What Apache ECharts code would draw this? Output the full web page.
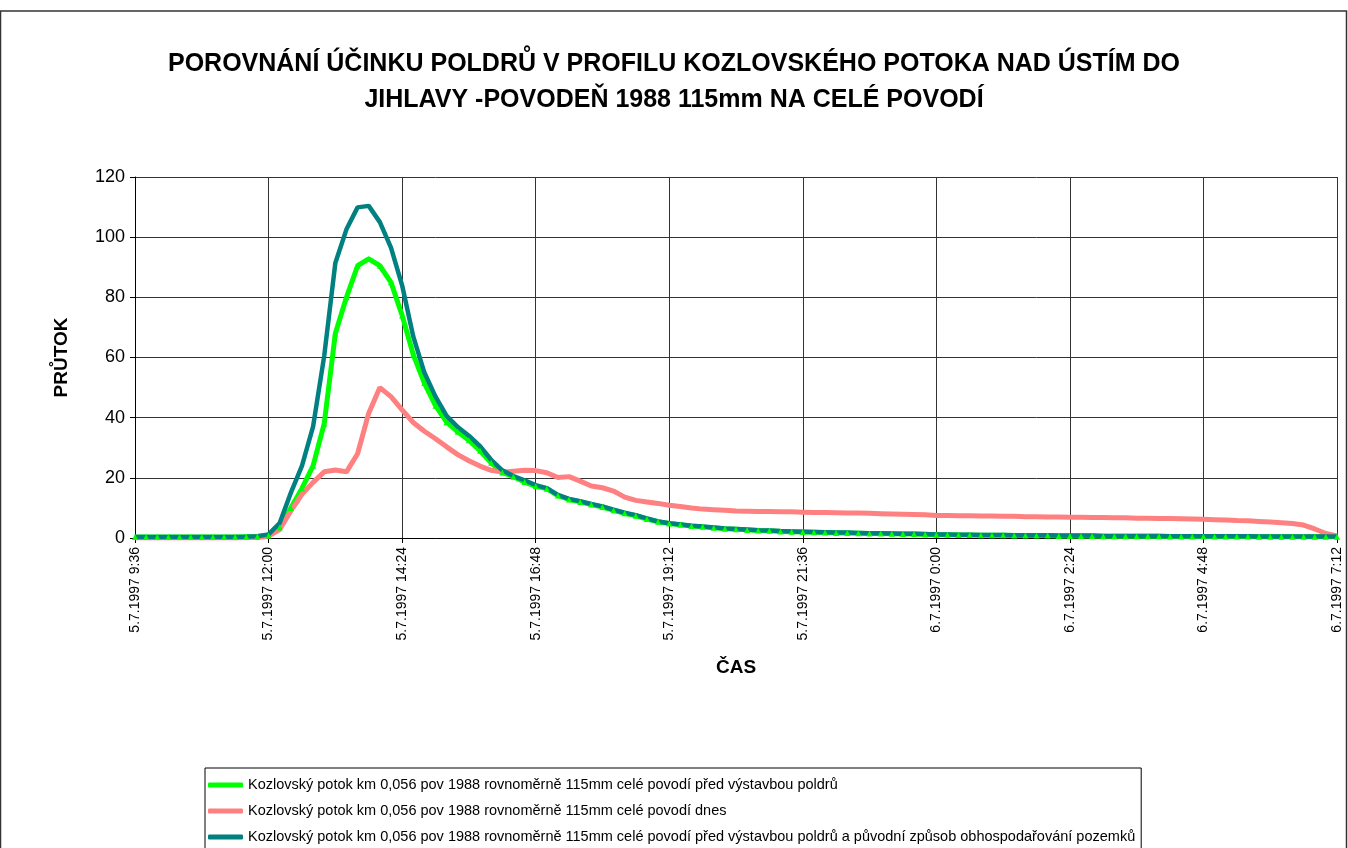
<!DOCTYPE html>
<html>
<head>
<meta charset="utf-8">
<title>Kozlovský potok</title>
<script src="https://cdn.jsdelivr.net/npm/echarts@6/dist/echarts.min.js"></script>
<style>
    html, body { margin: 0; padding: 0; background: #fff; }
    #chart { width: 1348px; height: 848px; }
</style>
</head>
<body>
<div id="chart"></div>
<script>
(function() {
    'use strict';

    // krok 12 minut od 5.7.1997 9:36
    var startDay = 5, startHour = 9, startMin = 36, stepMin = 12, pointCount = 109;

    var greenValues = [
        0.3, 0.3, 0.3, 0.3, 0.3, 0.3, 0.3, 0.3, 0.3, 0.3, 0.4, 0.5,
        0.8, 3.5, 10, 16.5, 24, 38, 68, 80, 90.5, 92.8, 90.5, 85,
        74, 61, 51.5, 44, 38.5, 35.3, 32.5, 29, 25, 21.8, 20.4, 18.6,
        17.2, 16.4, 14.1, 12.8, 12, 11.1, 10.3, 9.2, 8.2, 7.4, 6.3, 5.4,
        4.8, 4.4, 4.0, 3.7, 3.4, 3.1, 2.9, 2.7, 2.5, 2.4, 2.2, 2.1,
        2.0, 1.9, 1.8, 1.7, 1.7, 1.6, 1.5, 1.5, 1.4, 1.3, 1.3, 1.2,
        1.1, 1.1, 1.0, 1.0, 0.9, 0.9, 0.9, 0.8, 0.8, 0.8, 0.8, 0.7,
        0.7, 0.7, 0.7, 0.6, 0.6, 0.6, 0.6, 0.6, 0.6, 0.5, 0.5, 0.5,
        0.5, 0.5, 0.5, 0.5, 0.5, 0.4, 0.4, 0.4, 0.4, 0.4, 0.4, 0.4,
        0.4
    ];
    var pinkValues = [
        0, 0, 0, 0, 0, 0, 0, 0, 0, 0, 0.1, 0.2,
        0.6, 2.8, 9, 14.5, 18.5, 22, 22.6, 22, 28, 41.5, 50, 47,
        42.6, 38.4, 35.5, 33, 30.3, 27.7, 25.7, 23.9, 22.5, 21.9, 22.2, 22.5,
        22.4, 21.7, 20.1, 20.4, 18.9, 17.3, 16.7, 15.6, 13.6, 12.5, 12, 11.5,
        10.9, 10.5, 10.0, 9.6, 9.4, 9.2, 9.0, 8.9, 8.8, 8.8, 8.7, 8.7,
        8.6, 8.5, 8.5, 8.4, 8.3, 8.3, 8.2, 8.1, 8.0, 7.9, 7.8, 7.7,
        7.5, 7.5, 7.4, 7.4, 7.3, 7.3, 7.2, 7.2, 7.1, 7.1, 7.0, 7.0,
        6.9, 6.9, 6.8, 6.8, 6.7, 6.7, 6.6, 6.6, 6.5, 6.5, 6.4, 6.3,
        6.2, 6.1, 6.0, 5.8, 5.7, 5.5, 5.3, 5.1, 4.8, 4.3, 3.0, 1.5,
        0.7
    ];
    var tealValues = [
        0.3, 0.3, 0.3, 0.3, 0.3, 0.3, 0.3, 0.3, 0.3, 0.3, 0.4, 0.6,
        1.2, 5, 15, 24, 37, 60.5, 91.4, 102.6, 109.9, 110.4, 105, 96.5,
        84, 67, 55, 47, 40.6, 36.9, 34, 30.5, 26, 22.5, 20.6, 19.2,
        17.6, 16.6, 14.3, 13, 12.2, 11.3, 10.5, 9.4, 8.4, 7.6, 6.5, 5.5,
        4.9, 4.5, 4.1, 3.8, 3.5, 3.2, 3.0, 2.8, 2.6, 2.5, 2.3, 2.2,
        2.1, 2.0, 1.9, 1.8, 1.8, 1.7, 1.6, 1.6, 1.5, 1.4, 1.4, 1.3,
        1.2, 1.2, 1.1, 1.1, 1.0, 1.0, 1.0, 0.9, 0.9, 0.9, 0.9, 0.8,
        0.8, 0.8, 0.8, 0.7, 0.7, 0.7, 0.7, 0.7, 0.7, 0.6, 0.6, 0.6,
        0.6, 0.6, 0.6, 0.6, 0.6, 0.5, 0.5, 0.5, 0.5, 0.5, 0.5, 0.5,
        0.5
    ];

    var seriesNames = [
        'Kozlovský potok km 0,056 pov 1988 rovnoměrně 115mm celé povodí před výstavbou poldrů',
        'Kozlovský potok km 0,056 pov 1988 rovnoměrně 115mm celé povodí dnes',
        'Kozlovský potok km 0,056 pov 1988 rovnoměrně 115mm celé povodí před výstavbou poldrů a původní způsob obhospodařování pozemků'
    ];
    var seriesColors = ['#00ff00', '#ff8080', '#008080'];

    var titleText = 'POROVNÁNÍ ÚČINKU POLDRŮ V PROFILU KOZLOVSKÉHO POTOKA NAD ÚSTÍM DO\nJIHLAVY -POVODEŇ 1988 115mm NA CELÉ POVODÍ';

    // popisky casu 5.7.1997 9:36, 9:48, ...
    var categories = [];
    for (var i = 0; i < pointCount; i++) {
        var total = startHour * 60 + startMin + i * stepMin;
        var day = startDay + Math.floor(total / 1440);
        var m = total % 1440;
        var mm = m % 60;
        categories.push(day + '.7.1997 ' + Math.floor(m / 60) + ':' + (mm < 10 ? '0' + mm : mm));
    }

    var font = 'Liberation Sans, Arial, sans-serif';
    var myChart = echarts.init(document.getElementById('chart'));

    myChart.setOption({
        animation: false,
        backgroundColor: '#fff',
        textStyle: { fontFamily: font },
        title: {
            text: titleText,
            left: 'center',
            top: 41,
            textStyle: {
                fontFamily: font,
                fontSize: 25,
                fontWeight: 'bold',
                lineHeight: 36,
                color: '#000'
            }
        },
        graphic: [{
            type: 'rect',
            shape: { x: 0.5, y: 11, width: 1346, height: 900 },
            style: { fill: 'none', stroke: '#333', lineWidth: 1.5 },
            silent: true
        }],
        grid: { left: 135, right: 11, top: 177, bottom: 310 },
        legend: {
            orient: 'vertical',
            left: 205,
            top: 768,
            height: 120,
            padding: [8, 6, 8, 3],
            itemGap: 8,
            itemWidth: 35,
            itemHeight: 5,
            borderColor: '#000',
            borderWidth: 1,
            textStyle: { fontFamily: font, fontSize: 14.5, color: '#000', lineHeight: 18 },
            data: seriesNames.map(function(n, k) {
                return { name: n, icon: 'roundRect', itemStyle: { color: seriesColors[k] } };
            })
        },
        xAxis: {
            type: 'category',
            data: categories,
            boundaryGap: false,
            name: 'ČAS',
            nameLocation: 'middle',
            nameGap: 120,
            nameTextStyle: { fontFamily: font, fontSize: 19, fontWeight: 'bold', color: '#000' },
            axisLine: { lineStyle: { color: '#000', width: 1 } },
            axisTick: { interval: 11, length: 5, lineStyle: { color: '#000' } },
            axisLabel: { interval: 11, rotate: 90, fontSize: 14, color: '#000', margin: 9 },
            splitLine: { show: true, interval: 11, lineStyle: { color: '#333', width: 1 } }
        },
        yAxis: {
            type: 'value',
            min: 0,
            max: 120,
            interval: 20,
            name: 'PRŮTOK',
            nameLocation: 'middle',
            nameRotate: 90,
            nameGap: 64,
            nameTextStyle: { fontFamily: font, fontSize: 19, fontWeight: 'bold', color: '#000' },
            axisLine: { show: true, lineStyle: { color: '#000', width: 1 } },
            axisTick: { show: true, length: 5, lineStyle: { color: '#000' } },
            axisLabel: { fontSize: 18, color: '#000', margin: 10 },
            splitLine: { show: true, lineStyle: { color: '#333', width: 1 } }
        },
        series: [
            {
                name: seriesNames[0],
                type: 'line',
                data: greenValues,
                symbol: 'triangle',
                symbolSize: 6,
                showSymbol: true,
                itemStyle: { color: seriesColors[0] },
                lineStyle: { color: seriesColors[0], width: 5 }
            },
            {
                name: seriesNames[1],
                type: 'line',
                data: pinkValues,
                showSymbol: false,
                itemStyle: { color: seriesColors[1] },
                lineStyle: { color: seriesColors[1], width: 5 }
            },
            {
                name: seriesNames[2],
                type: 'line',
                data: tealValues,
                showSymbol: false,
                itemStyle: { color: seriesColors[2] },
                lineStyle: { color: seriesColors[2], width: 4.5 }
            }
        ]
    });

    window.onresize = myChart.resize;
})();
</script>
</body>
</html>
